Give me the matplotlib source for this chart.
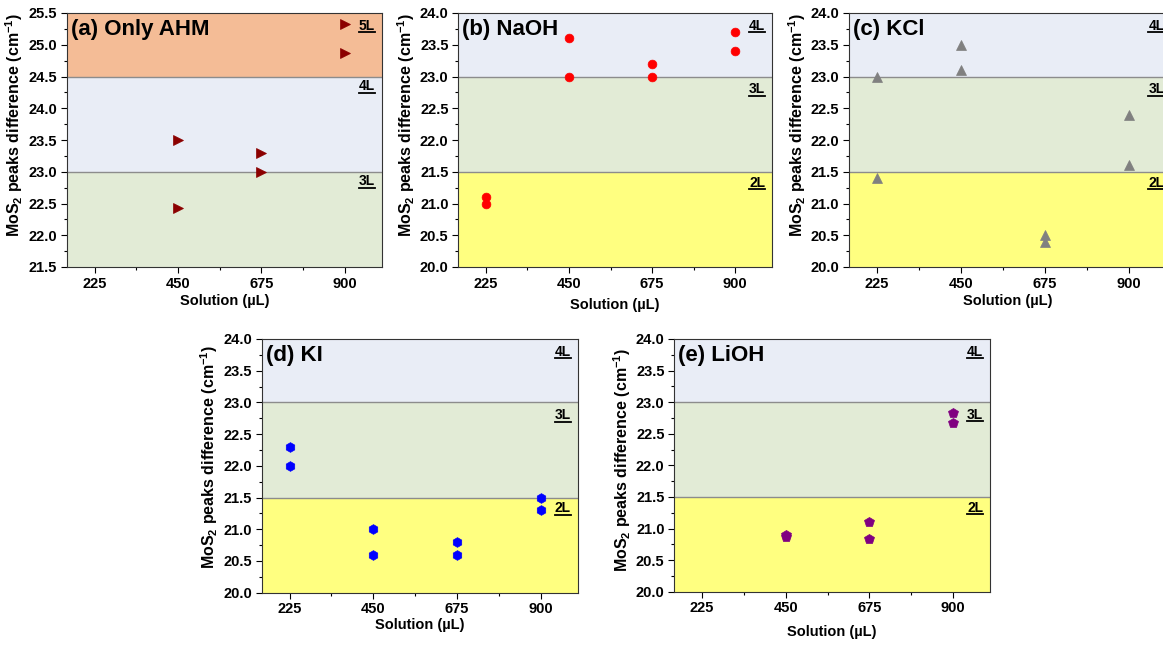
import matplotlib
matplotlib.use("Agg")
import matplotlib.pyplot as plt
from matplotlib.ticker import MultipleLocator, FixedLocator, FormatStrFormatter
from matplotlib.lines import Line2D

plt.rcParams['font.family'] = ['Liberation Sans', 'DejaVu Sans']
plt.rcParams['font.weight'] = 'bold'
plt.rcParams['mathtext.fontset'] = 'custom'
plt.rcParams['mathtext.rm'] = 'Liberation Sans:bold'
plt.rcParams['mathtext.bf'] = 'Liberation Sans:bold'
plt.rcParams['mathtext.default'] = 'bf'

# ---------------- data ----------------
x_ticks = [225, 450, 675, 900]

a_x = [450, 450, 675, 675, 900, 900]
a_y = [23.5, 22.43, 23.3, 23.0, 25.32, 24.87]

b_x = [225, 225, 450, 450, 675, 675, 900, 900]
b_y = [21.1, 21.0, 23.6, 23.0, 23.2, 23.0, 23.7, 23.4]

c_x = [225, 225, 450, 450, 675, 675, 900, 900]
c_y = [23.0, 21.4, 23.5, 23.1, 20.5, 20.4, 22.4, 21.6]

d_x = [225, 225, 450, 450, 675, 675, 900, 900]
d_y = [22.3, 22.0, 21.0, 20.6, 20.8, 20.6, 21.5, 21.3]

e_x = [450, 450, 675, 675, 900, 900]
e_y = [20.9, 20.87, 21.1, 20.83, 22.83, 22.67]

titles = ["(a) Only AHM", "(b) NaOH", "(c) KCl", "(d) KI", "(e) LiOH"]

# band edges and layer names
bands_a = [(21.5, 23.0, "3L"), (23.0, 24.5, "4L"), (24.5, 25.5, "5L")]
bands_std = [(20.0, 21.5, "2L"), (21.5, 23.0, "3L"), (23.0, 24.0, "4L")]

band_colors = {"2L": "#ffff80", "3L": "#e2ebd6", "4L": "#e9edf6", "5L": "#f4bc96"}

W, H = 1163, 646
fig = plt.figure(figsize=(W / 100, H / 100), dpi=100)


def add_ax(left, top, right, bottom):
    return fig.add_axes([left / W, 1 - bottom / H, (right - left) / W, (bottom - top) / H])


def draw_panel(ax, xs, ys, marker, color, ms, title, bands, ylim, label_pos, lab_x, ylab_y, xpad):
    for lo, hi, name in bands:
        ax.axhspan(lo, hi, color=band_colors[name], zorder=0, lw=0)
    for lo, hi, name in bands[1:]:
        ax.axhline(lo, color="#8c8c8c", lw=1.0, zorder=1)
    ax.plot(xs, ys, linestyle="none", marker=marker, color=color, ms=ms,
            markeredgewidth=0.5, zorder=3, clip_on=False)
    ax.set_xlim(150, 1000)
    ax.set_ylim(*ylim)
    ax.xaxis.set_major_locator(FixedLocator(x_ticks))
    ax.xaxis.set_minor_locator(FixedLocator([337.5, 562.5, 787.5]))
    ax.yaxis.set_major_locator(MultipleLocator(0.5))
    ax.yaxis.set_minor_locator(MultipleLocator(0.25))
    ax.yaxis.set_major_formatter(FormatStrFormatter('%.1f'))
    ax.tick_params(which='both', direction='out', labelsize=10.5, width=0.8, pad=3)
    ax.tick_params(which='major', length=4)
    ax.tick_params(which='minor', length=2.5)
    for lab in ax.get_xticklabels() + ax.get_yticklabels():
        lab.set_fontweight('bold')
    for s in ax.spines.values():
        s.set_linewidth(0.8)
        s.set_color("#333333")
    ax.set_xlabel("Solution (µL)", fontsize=10.5, fontweight='bold', labelpad=xpad)
    ax.set_ylabel(r"MoS$_2$ peaks difference (cm$^{-1}$)", fontsize=11.5,
                  fontweight='bold', labelpad=2)
    ax.yaxis.label.set_y(ylab_y)
    ax.text(0.013, 0.935, title, transform=ax.transAxes, fontsize=16,
            fontweight='bold', va='center', ha='left', zorder=5)
    texts = []
    for (lo, hi, name), yv in zip(bands, label_pos):
        t = ax.text(lab_x, yv, name, transform=ax.get_yaxis_transform(),
                    fontsize=10, fontweight='bold', ha='right', va='center', zorder=5)
        texts.append(t)
    return texts


specs = [
    ((66.7, 13, 382, 267), a_x, a_y, '>', '#8b0000', 7, titles[0], bands_a, (21.5, 25.5), [22.85, 24.35, 25.3], 0.978, 0.56, 2),
    ((458.3, 13, 772, 267), b_x, b_y, 'o', '#ff0000', 6.3, titles[1], bands_std, (20.0, 24.0), [21.33, 22.8, 23.8], 0.978, 0.56, 5),
    ((849, 13, 1166, 267), c_x, c_y, '^', '#808080', 7, titles[2], bands_std, (20.0, 24.0), [21.33, 22.8, 23.8], 0.995, 0.56, 2),
    ((261.7, 339, 577.7, 592.7), d_x, d_y, 'h', '#0000ff', 7, titles[3], bands_std, (20.0, 24.0), [21.33, 22.8, 23.8], 0.978, 0.535, 1),
    ((674.3, 339, 990, 591.7), e_x, e_y, 'p', '#800080', 7, titles[4], bands_std, (20.0, 24.0), [21.33, 22.8, 23.8], 0.978, 0.52, 7),
]

all_texts = []
for box, xs, ys, mk, col, ms, title, bands, ylim, lp, lx, yly, xpad in specs:
    ax = add_ax(*box)
    all_texts += draw_panel(ax, xs, ys, mk, col, ms, title, bands, ylim, lp, lx, yly, xpad)

# underline the layer labels
fig.canvas.draw()
renderer = fig.canvas.get_renderer()
for t in all_texts:
    bb = t.get_window_extent(renderer)
    y = bb.y0 + 0.5
    fig.add_artist(Line2D([bb.x0 / W, bb.x1 / W], [y / H, y / H], color='black',
                          lw=1.3, transform=fig.transFigure))

fig.savefig("out.png", dpi=100)
